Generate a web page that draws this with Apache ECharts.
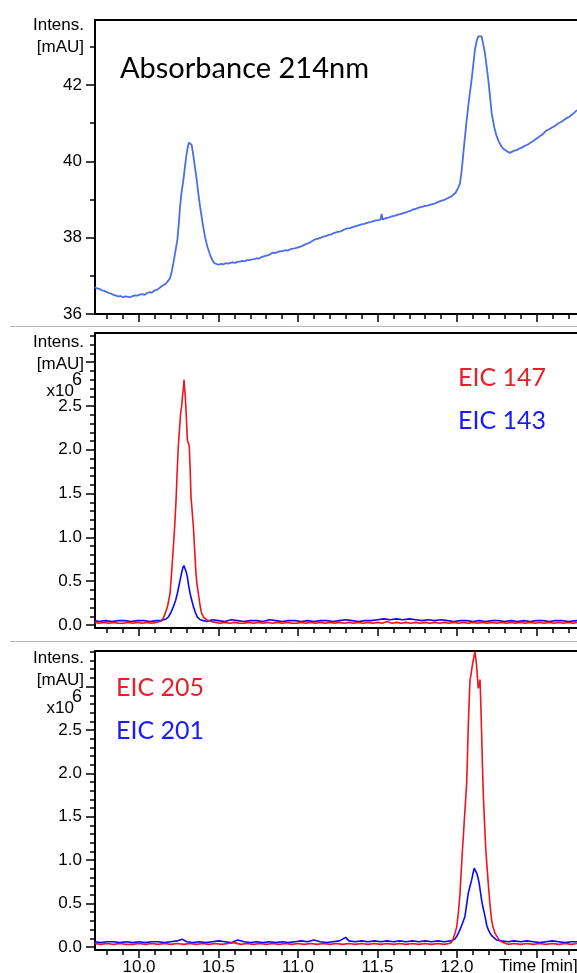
<!DOCTYPE html>
<html><head><meta charset="utf-8">
<script src="https://cdn.jsdelivr.net/npm/echarts@6/dist/echarts.min.js"></script>
<style>html,body{margin:0;padding:0;background:#fff}#c{width:577px;height:973px}</style>
</head><body><div id="c"></div>
<script>
// ---------------- axes / ticks ----------------
const timeRange = [9.723, 12.755];
const timeMajorTicks = [10.0, 10.5, 11.0, 11.5, 12.0, 12.5];
const timeLabels = [10.0, 10.5, 11.0, 11.5, 12.0];
const timeMinorTicks = [9.8, 9.9, 10.0, 10.1, 10.2, 10.3, 10.4, 10.5, 10.6, 10.7, 10.8, 10.9, 11.0, 11.1, 11.2, 11.3, 11.4, 11.5, 11.6, 11.7, 11.8, 11.9, 12.0, 12.1, 12.2, 12.3, 12.4, 12.5, 12.6, 12.7];
const absRange = [36, 43.7];
const absMajorTicks = [36, 38, 40, 42];
const absMinorTicks = [36, 37, 38, 39, 40, 41, 42, 43];
const eic1Range = [-0.034, 3.333];
const eic2Range = [-0.035, 3.41];
const eicMajorTicks = [0, 0.5, 1.0, 1.5, 2.0, 2.5, 3.0];
const eicLabels = [0, 0.5, 1.0, 1.5, 2.0, 2.5];
const eicMinorTicks = [0, 0.1, 0.2, 0.3, 0.4, 0.5, 0.6, 0.7, 0.8, 0.9, 1.0, 1.1, 1.2, 1.3, 1.4, 1.5, 1.6, 1.7, 1.8, 1.9, 2.0, 2.1, 2.2, 2.3, 2.4, 2.5, 2.6, 2.7, 2.8, 2.9, 3.0, 3.1, 3.2, 3.3, 3.4];

// ---------------- series data: [time (min), intensity] ----------------
const abs214 = [
[9.72,36.70],[9.735,36.67],[9.75,36.66],[9.765,36.62],[9.78,36.61],[9.795,36.58],[9.81,36.55],[9.825,36.53],[9.84,36.50],[9.855,36.48],[9.87,36.46],[9.885,36.47],[9.90,36.44],[9.915,36.46],[9.93,36.45],[9.945,36.44],[9.96,36.47],[9.975,36.49],[9.99,36.48],[10.005,36.51],[10.02,36.52],[10.035,36.50],[10.05,36.55],[10.065,36.57],[10.08,36.56],[10.095,36.61],[10.11,36.63],[10.125,36.67],[10.14,36.72],[10.155,36.76],[10.17,36.80],[10.185,36.88],[10.195,36.94],
[10.205,37.10],[10.216,37.33],[10.228,37.62],[10.241,37.94],[10.250,38.35],[10.258,38.81],[10.268,39.20],[10.279,39.51],[10.290,39.90],[10.300,40.21],[10.308,40.40],[10.314,40.49],[10.322,40.48],[10.331,40.43],[10.340,40.20],[10.348,39.95],[10.356,39.72],[10.363,39.51],[10.373,39.15],[10.384,38.81],[10.400,38.38],[10.415,38.02],[10.430,37.76],[10.447,37.55],[10.460,37.42],[10.472,37.34],
[10.485,37.31],[10.50,37.29],[10.515,37.31],[10.53,37.30],[10.545,37.33],[10.56,37.32],[10.575,37.34],[10.59,37.35],[10.605,37.34],[10.62,37.37],[10.635,37.37],[10.65,37.39],[10.665,37.38],[10.68,37.41],[10.695,37.41],[10.71,37.43],[10.725,37.44],[10.74,37.46],[10.755,37.45],[10.77,37.49],[10.785,37.51],[10.80,37.53],[10.815,37.54],[10.83,37.58],[10.845,37.61],[10.86,37.60],[10.875,37.63],[10.89,37.64],[10.905,37.65],[10.92,37.67],[10.935,37.66],[10.95,37.69],[10.965,37.71],[10.98,37.72],[10.995,37.74],
[11.01,37.76],[11.025,37.78],[11.04,37.81],[11.055,37.84],[11.07,37.86],[11.085,37.90],[11.10,37.94],[11.115,37.96],[11.13,37.98],[11.145,38.00],[11.16,38.03],[11.175,38.04],[11.19,38.07],[11.205,38.08],[11.22,38.11],[11.235,38.13],[11.25,38.15],[11.265,38.16],[11.28,38.19],[11.295,38.22],[11.31,38.24],[11.325,38.25],[11.34,38.27],[11.355,38.29],[11.37,38.31],[11.385,38.33],[11.40,38.35],[11.415,38.36],[11.43,38.38],[11.445,38.40],[11.46,38.41],[11.475,38.43],[11.49,38.45],[11.505,38.46],[11.52,38.48],[11.526,38.62],[11.532,38.47],[11.545,38.50],[11.56,38.52],[11.575,38.53],[11.59,38.56],[11.605,38.57],[11.62,38.59],[11.635,38.61],[11.65,38.62],[11.665,38.65],[11.68,38.66],[11.695,38.69],[11.71,38.71],[11.725,38.74],[11.74,38.75],[11.755,38.78],[11.77,38.80],[11.785,38.81],[11.80,38.83],[11.815,38.84],[11.83,38.86],[11.845,38.88],[11.86,38.89],[11.875,38.92],[11.89,38.95],[11.905,38.97],[11.92,38.99],[11.935,39.02],[11.95,39.05],[11.965,39.08],[11.977,39.12],[11.99,39.17],[12.005,39.28],[12.019,39.42],
[12.028,39.70],[12.036,40.03],[12.048,40.55],[12.061,41.08],[12.076,41.62],[12.092,42.13],[12.103,42.55],[12.113,42.92],[12.124,43.15],[12.134,43.27],[12.145,43.29],[12.155,43.27],[12.166,43.05],[12.176,42.83],[12.186,42.50],[12.197,42.13],[12.208,41.70],[12.218,41.26],[12.234,40.90],[12.250,40.65],[12.265,40.50],[12.281,40.38],[12.30,40.30],[12.315,40.26],[12.333,40.22],[12.345,40.25],
[12.36,40.28],[12.375,40.29],[12.39,40.33],[12.405,40.35],[12.42,40.39],[12.435,40.42],[12.45,40.45],[12.465,40.49],[12.48,40.53],[12.495,40.58],[12.51,40.62],[12.525,40.67],[12.54,40.71],[12.555,40.78],[12.57,40.82],[12.585,40.85],[12.60,40.89],[12.615,40.92],[12.63,40.97],[12.645,41.01],[12.66,41.04],[12.675,41.09],[12.69,41.13],[12.705,41.16],[12.72,41.21],[12.735,41.26],[12.755,41.34]
];

const eic147 = [
[9.72,0.03],[9.75,0.02],[9.78,0.03],[9.81,0.02],[9.84,0.03],[9.87,0.02],[9.90,0.02],[9.93,0.03],[9.96,0.02],[9.99,0.03],[10.02,0.02],[10.05,0.03],[10.08,0.02],[10.11,0.03],
[10.132,0.04],[10.150,0.07],[10.164,0.13],[10.180,0.22],[10.195,0.36],[10.205,0.60],[10.216,0.89],[10.225,1.15],[10.233,1.43],[10.240,1.75],[10.247,2.04],[10.255,2.25],[10.262,2.42],[10.268,2.50],[10.275,2.64],[10.280,2.72],[10.283,2.80],[10.287,2.70],[10.291,2.61],[10.297,2.40],[10.304,2.11],[10.310,2.08],[10.316,2.04],[10.322,1.75],[10.327,1.46],[10.335,1.28],[10.342,1.12],[10.350,0.85],[10.358,0.59],[10.365,0.46],[10.373,0.36],[10.384,0.22],[10.394,0.13],[10.410,0.08],[10.426,0.06],[10.45,0.04],
[10.48,0.03],[10.51,0.02],[10.54,0.03],[10.57,0.02],[10.60,0.03],[10.63,0.02],[10.66,0.02],[10.69,0.03],[10.72,0.02],[10.75,0.03],[10.78,0.02],[10.81,0.03],[10.84,0.02],[10.87,0.03],[10.90,0.02],[10.93,0.03],[10.96,0.02],[10.99,0.02],[11.02,0.03],[11.05,0.02],[11.08,0.03],[11.11,0.02],[11.14,0.03],[11.17,0.02],[11.20,0.03],[11.23,0.02],[11.26,0.03],[11.29,0.02],[11.32,0.03],[11.35,0.02],[11.38,0.03],[11.41,0.02],[11.44,0.03],[11.47,0.02],[11.50,0.03],[11.53,0.02],[11.56,0.04],[11.59,0.02],[11.62,0.03],[11.65,0.02],[11.68,0.03],[11.71,0.02],[11.74,0.03],[11.77,0.02],[11.80,0.03],[11.83,0.02],[11.86,0.03],[11.89,0.02],[11.92,0.03],[11.95,0.02],[11.98,0.03],[12.01,0.02],[12.04,0.03],[12.07,0.02],[12.10,0.03],[12.13,0.02],[12.16,0.03],[12.19,0.02],[12.22,0.03],[12.25,0.02],[12.28,0.03],[12.31,0.02],[12.34,0.03],[12.37,0.02],[12.40,0.03],[12.43,0.02],[12.46,0.03],[12.49,0.02],[12.52,0.03],[12.55,0.02],[12.58,0.03],[12.61,0.02],[12.64,0.03],[12.67,0.02],[12.70,0.03],[12.73,0.02],[12.755,0.03]
];

const eic143 = [
[9.72,0.05],[9.75,0.04],[9.79,0.05],[9.83,0.04],[9.87,0.05],[9.91,0.05],[9.95,0.04],[9.99,0.05],[10.03,0.05],[10.07,0.04],[10.11,0.05],[10.14,0.05],
[10.153,0.06],[10.170,0.07],[10.184,0.09],[10.200,0.14],[10.216,0.21],[10.230,0.28],[10.241,0.36],[10.250,0.44],[10.258,0.51],[10.266,0.58],[10.275,0.65],[10.282,0.68],[10.289,0.66],[10.296,0.61],[10.304,0.55],[10.312,0.45],[10.321,0.36],[10.332,0.28],[10.342,0.21],[10.355,0.14],[10.367,0.09],[10.385,0.06],[10.404,0.05],
[10.43,0.04],[10.46,0.06],[10.50,0.05],[10.54,0.04],[10.58,0.06],[10.62,0.05],[10.66,0.04],[10.70,0.05],[10.74,0.05],[10.78,0.04],[10.82,0.06],[10.86,0.05],[10.90,0.04],[10.94,0.05],[10.98,0.05],[11.02,0.04],[11.06,0.05],[11.10,0.04],[11.14,0.05],[11.18,0.05],[11.22,0.04],[11.26,0.05],[11.30,0.06],[11.34,0.05],[11.38,0.04],[11.42,0.05],[11.46,0.05],[11.50,0.06],[11.54,0.07],[11.58,0.06],[11.62,0.07],[11.66,0.06],[11.70,0.07],[11.74,0.06],[11.78,0.05],[11.82,0.06],[11.86,0.05],[11.90,0.06],[11.94,0.05],[11.98,0.04],[12.02,0.05],[12.06,0.05],[12.10,0.04],[12.14,0.05],[12.18,0.04],[12.22,0.05],[12.26,0.05],[12.30,0.04],[12.34,0.05],[12.38,0.04],[12.42,0.05],[12.46,0.04],[12.50,0.05],[12.54,0.05],[12.58,0.04],[12.62,0.05],[12.66,0.05],[12.70,0.04],[12.755,0.05]
];

const eic205 = [
[9.72,0.04],[9.76,0.03],[9.80,0.04],[9.84,0.03],[9.88,0.04],[9.92,0.03],[9.96,0.03],[10.00,0.04],[10.04,0.03],[10.08,0.04],[10.12,0.03],[10.16,0.04],[10.20,0.03],[10.24,0.04],[10.28,0.03],[10.32,0.04],[10.36,0.03],[10.40,0.04],[10.44,0.03],[10.48,0.04],[10.52,0.03],[10.56,0.04],[10.60,0.05],[10.64,0.03],[10.68,0.04],[10.72,0.03],[10.76,0.04],[10.80,0.03],[10.84,0.04],[10.88,0.03],[10.92,0.04],[10.96,0.03],[11.00,0.04],[11.04,0.03],[11.08,0.04],[11.12,0.03],[11.16,0.04],[11.20,0.03],[11.24,0.04],[11.28,0.03],[11.32,0.04],[11.36,0.03],[11.40,0.04],[11.44,0.03],[11.48,0.04],[11.52,0.03],[11.56,0.04],[11.60,0.03],[11.64,0.04],[11.68,0.03],[11.72,0.04],[11.76,0.03],[11.80,0.04],[11.84,0.03],[11.88,0.04],[11.92,0.03],[11.95,0.04],
[11.965,0.05],[11.977,0.10],[11.988,0.16],[11.998,0.23],[12.009,0.40],[12.019,0.62],[12.026,0.85],[12.033,1.08],[12.040,1.27],[12.046,1.46],[12.054,1.68],[12.061,1.89],[12.066,2.20],[12.071,2.54],[12.077,2.85],[12.082,3.08],[12.087,3.12],[12.092,3.19],[12.098,3.26],[12.103,3.31],[12.108,3.36],[12.113,3.40],[12.118,3.33],[12.124,3.23],[12.129,3.10],[12.134,2.98],[12.140,3.02],[12.145,3.08],[12.150,2.80],[12.155,2.46],[12.160,2.10],[12.166,1.73],[12.173,1.45],[12.180,1.16],[12.188,0.95],[12.197,0.73],[12.207,0.50],[12.218,0.31],[12.228,0.22],[12.239,0.16],[12.255,0.11],[12.270,0.07],[12.29,0.05],
[12.32,0.03],[12.36,0.04],[12.40,0.03],[12.44,0.04],[12.48,0.03],[12.52,0.04],[12.56,0.03],[12.60,0.04],[12.64,0.03],[12.68,0.04],[12.72,0.03],[12.755,0.04]
];

const eic201 = [
[9.72,0.06],[9.76,0.05],[9.80,0.06],[9.84,0.06],[9.88,0.05],[9.92,0.06],[9.96,0.05],[10.00,0.06],[10.04,0.05],[10.08,0.06],[10.12,0.06],[10.16,0.05],[10.20,0.06],[10.24,0.07],[10.27,0.09],[10.30,0.06],[10.34,0.05],[10.38,0.06],[10.42,0.05],[10.46,0.06],[10.50,0.07],[10.54,0.06],[10.58,0.05],[10.62,0.08],[10.66,0.06],[10.70,0.05],[10.74,0.06],[10.78,0.05],[10.82,0.06],[10.86,0.05],[10.90,0.06],[10.94,0.05],[10.98,0.06],[11.02,0.07],[11.06,0.06],[11.10,0.08],[11.14,0.06],[11.18,0.05],[11.22,0.06],[11.26,0.07],[11.30,0.11],[11.32,0.07],[11.36,0.06],[11.40,0.07],[11.44,0.06],[11.48,0.07],[11.52,0.06],[11.56,0.07],[11.60,0.06],[11.64,0.07],[11.68,0.06],[11.72,0.07],[11.76,0.06],[11.80,0.07],[11.84,0.06],[11.88,0.07],[11.92,0.06],[11.96,0.07],
[11.985,0.09],[11.998,0.12],[12.014,0.18],[12.030,0.25],[12.040,0.30],[12.050,0.35],[12.060,0.48],[12.071,0.62],[12.082,0.70],[12.092,0.77],[12.100,0.84],[12.109,0.91],[12.116,0.88],[12.124,0.85],[12.132,0.80],[12.140,0.73],[12.148,0.63],[12.155,0.54],[12.163,0.46],[12.172,0.39],[12.180,0.32],[12.187,0.25],[12.197,0.20],[12.208,0.16],[12.218,0.13],[12.228,0.11],[12.25,0.08],
[12.28,0.07],[12.32,0.06],[12.36,0.07],[12.40,0.06],[12.44,0.07],[12.48,0.06],[12.52,0.05],[12.56,0.06],[12.60,0.07],[12.64,0.06],[12.68,0.05],[12.72,0.06],[12.755,0.06]
];

// ---------------- chart ----------------
const FONT = "'Liberation Sans', Arial, sans-serif";
const LBL = 17;
const BLACK = '#000';
const grids = [
  {left: 95, right: 0, top: 20, height: 294},
  {left: 95, right: 0, top: 333, height: 295},
  {left: 95, right: 0, top: 651, height: 299}
].map(g => Object.assign({outerBoundsMode: 'none', containLabel: false}, g));

function xAxesFor(gi, withLabels) {
  const base = {type: 'value', gridIndex: gi, min: timeRange[0], max: timeRange[1], splitLine: {show: false}};
  return [
    Object.assign({}, base, {
      position: 'bottom',
      axisLine: {show: true, onZero: false, lineStyle: {color: BLACK, width: 2}},
      axisTick: {show: true, customValues: timeMajorTicks, length: 8, lineStyle: {color: BLACK, width: 1.5}},
      axisLabel: withLabels ? {show: true, customValues: timeLabels, formatter: v => v.toFixed(1), color: BLACK, fontFamily: FONT, fontSize: LBL, margin: 9} : {show: false}
    }),
    Object.assign({}, base, {
      position: 'bottom',
      axisLine: {show: false, onZero: false},
      axisTick: {show: true, customValues: timeMinorTicks, length: 5, lineStyle: {color: BLACK, width: 1.5}},
      axisLabel: {show: false}
    }),
    Object.assign({}, base, {
      position: 'top',
      axisLine: {show: true, onZero: false, lineStyle: {color: BLACK, width: 2}},
      axisTick: {show: false},
      axisLabel: {show: false}
    })
  ];
}

function yAxesFor(gi, range, majors, labels, minors, fmt) {
  const base = {type: 'value', gridIndex: gi, min: range[0], max: range[1], splitLine: {show: false}, position: 'left'};
  return [
    Object.assign({}, base, {
      axisLine: {show: true, onZero: false, lineStyle: {color: BLACK, width: 2}},
      axisTick: {show: true, customValues: majors, length: 9, lineStyle: {color: BLACK, width: 1.5}},
      axisLabel: {show: true, customValues: labels, formatter: fmt, color: BLACK, fontFamily: FONT, fontSize: LBL, margin: 13}
    }),
    Object.assign({}, base, {
      axisLine: {show: false, onZero: false},
      axisTick: {show: true, customValues: minors, length: 5, lineStyle: {color: BLACK, width: 1.5}},
      axisLabel: {show: false}
    })
  ];
}

const xAxis = [].concat(xAxesFor(0, false), xAxesFor(1, false), xAxesFor(2, true));
const yAxis = [].concat(
  yAxesFor(0, absRange, absMajorTicks, absMajorTicks, absMinorTicks, v => String(v)),
  yAxesFor(1, eic1Range, eicMajorTicks, eicLabels, eicMinorTicks, v => v.toFixed(1)),
  yAxesFor(2, eic2Range, eicMajorTicks, eicLabels, eicMinorTicks, v => v.toFixed(1))
);

function line(data, xi, yi, color, w) {
  return {type: 'line', data: data, xAxisIndex: xi, yAxisIndex: yi, showSymbol: false, symbol: 'none',
    lineStyle: {color: color, width: w}, itemStyle: {color: color}, clip: true, animation: false, silent: true};
}

const C_ABS = '#4a6ee6', C_RED = '#f0141e', C_BLUE = '#0a0aff';
const series = [
  line(abs214, 0, 0, C_ABS, 1.8),
  line(eic143, 3, 2, C_BLUE, 1.6),
  line(eic147, 3, 2, C_RED, 1.6),
  line(eic201, 6, 4, C_BLUE, 1.6),
  line(eic205, 6, 4, C_RED, 1.6)
];

function txt(t, x, y, size, color, align, family) {
  return {type: 'text', silent: true, style: {text: t, x: x, y: y, fill: color || BLACK,
    font: size + 'px ' + (family || FONT), textAlign: align || 'right', textVerticalAlign: 'middle'}};
}
function hline(y) {
  return {type: 'line', silent: true, shape: {x1: 10, y1: y, x2: 577, y2: y}, style: {stroke: '#b8b8b8', lineWidth: 1}};
}
const CAL = "Lato, 'Open Sans', sans-serif";
const graphic = [
  hline(326.5), hline(641.5),
  txt('Intens.', 84, 25, LBL), txt('[mAU]', 84, 47, LBL),
  txt('Intens.', 84, 342, LBL), txt('[mAU]', 84, 364, LBL),
  txt('x10', 74, 391, LBL), txt('6', 72, 380, LBL + 1, BLACK, 'left'),
  txt('Intens.', 84, 658, LBL), txt('[mAU]', 84, 680, LBL),
  txt('x10', 74, 708, LBL), txt('6', 72, 697, LBL + 1, BLACK, 'left'),
  txt('Absorbance 214nm', 120, 69, 29, BLACK, 'left', CAL),
  txt('EIC 147', 458, 378, 25, '#e8202a', 'left', CAL),
  txt('EIC 143', 458, 421, 25, '#1a1aff', 'left', CAL),
  txt('EIC 205', 116, 688, 25, '#e8202a', 'left', CAL),
  txt('EIC 201', 116, 731, 25, '#1a1aff', 'left', CAL),
  txt('Time [min]', 499, 966, LBL, BLACK, 'left')
];

const chart = echarts.init(document.getElementById('c'), null, {renderer: 'canvas'});
chart.setOption({
  animation: false,
  backgroundColor: '#fff',
  grid: grids,
  xAxis: xAxis,
  yAxis: yAxis,
  series: series,
  graphic: graphic
});
</script></body></html>
